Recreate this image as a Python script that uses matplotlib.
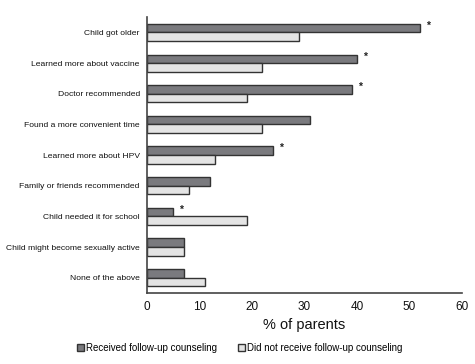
import numpy as np
import matplotlib
matplotlib.use("Agg")
import matplotlib.pyplot as plt
from matplotlib.patches import Patch

# reasons for getting vaccine, top to bottom
reasons = [
    "Child got older",
    "Learned more about vaccine",
    "Doctor recommended",
    "Found a more convenient time",
    "Learned more about HPV",
    "Family or friends recommended",
    "Child needed it for school",
    "Child might become sexually active",
    "None of the above",
]
received = [52, 40, 39, 31, 24, 12, 5, 7, 7]
not_received = [29, 22, 19, 22, 13, 8, 19, 7, 11]
significant = [True, True, True, False, True, False, True, False, False]
xticks = [0, 10, 20, 30, 40, 50, 60]

plt.rcParams["font.family"] = ["Liberation Sans", "DejaVu Sans"]

fig = plt.figure(figsize=(4.75, 3.64), dpi=100)
ax = fig.add_axes([0.309, 0.195, 0.664, 0.758])

y = np.arange(len(reasons))
h = 0.28
ax.barh(y, received, height=-h, align="edge", color="#7a7a7e",
        edgecolor="#333333", linewidth=1.0)
ax.barh(y, not_received, height=h, align="edge", color="#e4e4e4",
        edgecolor="#333333", linewidth=1.0)

# significance markers
for yi, val, sig in zip(y, received, significant):
    if sig:
        ax.text(val + 1.2, yi - h / 2 - 0.08, "*", ha="left", va="center",
                fontsize=7.5, fontweight="bold", color="#222222")

ax.set_ylim(len(reasons) - 0.5, -0.5)
ax.set_xlim(0, 60)
ax.set_yticks(y)
ax.set_yticklabels(reasons, fontsize=6.1, color="#111111")
ax.set_xticks(xticks)
ax.set_xticklabels([str(t) for t in xticks], fontsize=8.5, color="#111111")
ax.tick_params(length=0, pad=6)
ax.tick_params(axis="y", pad=5)

for side in ["top", "right"]:
    ax.spines[side].set_visible(False)
for side in ["left", "bottom"]:
    ax.spines[side].set_color("#444444")
    ax.spines[side].set_linewidth(1.2)

ax.set_xlabel("% of parents", fontsize=10.5, color="#111111", labelpad=3)

handles = [
    Patch(facecolor="#7a7a7e", edgecolor="#333333", label="Received follow-up counseling"),
    Patch(facecolor="#e4e4e4", edgecolor="#333333", label="Did not receive follow-up counseling"),
]
fig.legend(handles=handles, loc="center", bbox_to_anchor=(0.505, 0.045), ncol=2,
           frameon=False, fontsize=7, handlelength=0.7, handleheight=0.7,
           handletextpad=0.2, columnspacing=2.2)

plt.savefig("out.png", dpi=100)
